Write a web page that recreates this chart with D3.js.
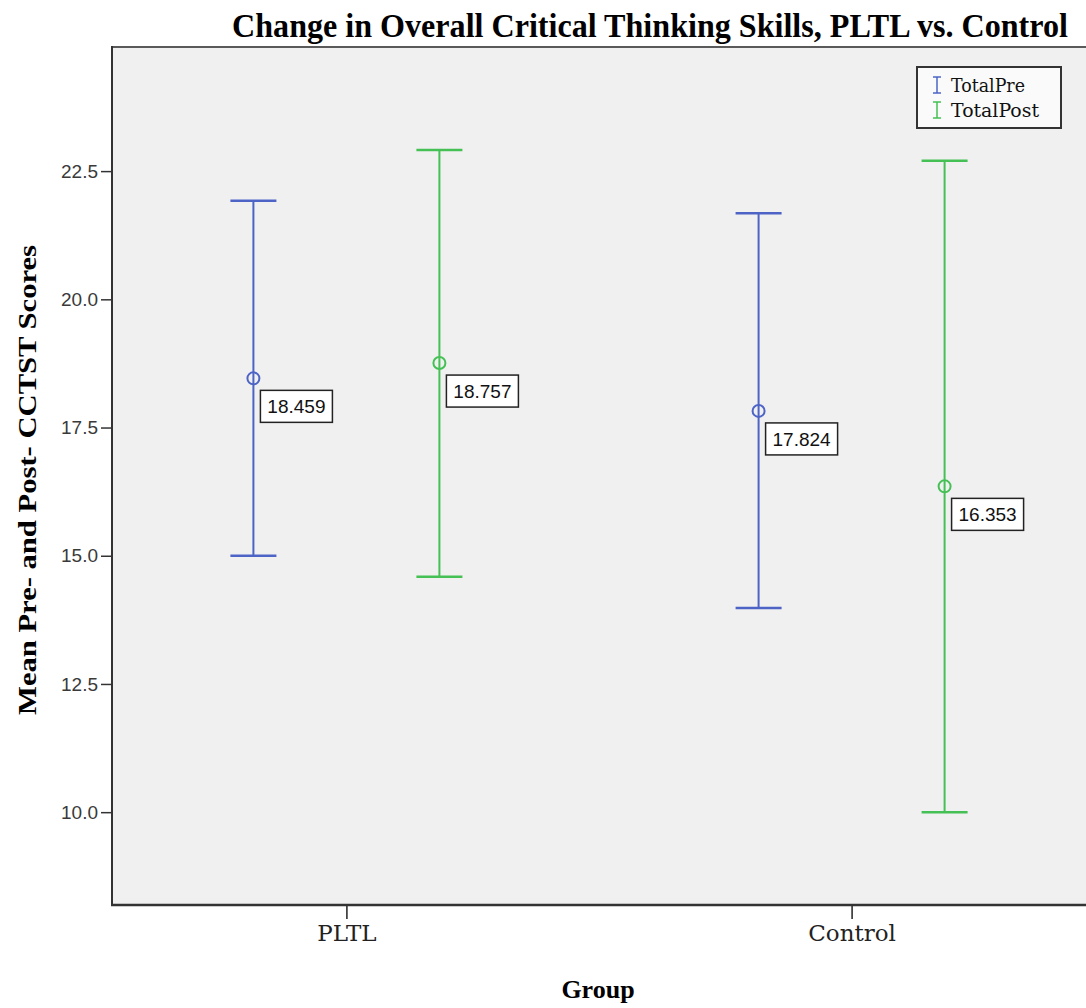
<!DOCTYPE html>
<html>
<head>
<meta charset="utf-8">
<script src="https://cdn.jsdelivr.net/npm/d3@7/dist/d3.min.js"></script>
<style>
  html, body { margin: 0; padding: 0; background: #ffffff; }
  svg { display: block; }
</style>
</head>
<body>
<svg id="chart" width="1086" height="1008"></svg>
<script>
// Groups, series and the summary statistics drawn for each (mean with interval bounds)
const groups = ["PLTL", "Control"];
const seriesNames = ["TotalPre", "TotalPost"];
const seriesColors = ["#4d64c6", "#45c055"];
const means = {
  TotalPre:  [18.459, 17.824],
  TotalPost: [18.757, 16.353]
};
const lowerBounds = {
  TotalPre:  [15.00, 13.98],
  TotalPost: [14.59, 10.00]
};
const upperBounds = {
  TotalPre:  [21.92, 21.68],
  TotalPost: [22.91, 22.70]
};
const yTicks = [10.0, 12.5, 15.0, 17.5, 20.0, 22.5];

const svg = d3.select("#chart");
const plot = { left: 112, right: 1086, top: 47, bottom: 905 };

const x = d3.scalePoint().domain(groups).range([plot.left, plot.right]).padding(0.464);
const offset = d3.scalePoint().domain(seriesNames).range([-93, 93]);
const y = d3.scaleLinear().domain([8.19, 24.92]).range([plot.bottom, plot.top]);
const color = d3.scaleOrdinal().domain(seriesNames).range(seriesColors);

// Plot background
svg.append("rect")
  .attr("x", plot.left).attr("y", plot.top)
  .attr("width", plot.right - plot.left).attr("height", plot.bottom - plot.top)
  .attr("fill", "#f0f0f0");
svg.append("line")
  .attr("x1", plot.left).attr("x2", plot.right)
  .attr("y1", plot.top).attr("y2", plot.top)
  .attr("stroke", "#5a5a5a").attr("stroke-width", 2);

// Y axis
const yAxis = svg.append("g")
  .attr("transform", `translate(${plot.left},0)`)
  .call(d3.axisLeft(y).tickValues(yTicks).tickFormat(d3.format(".1f")).tickSize(11).tickPadding(3));
yAxis.select(".domain").remove();
yAxis.selectAll(".tick line").attr("stroke", "#333").attr("stroke-width", 1.5);
yAxis.selectAll(".tick text")
  .attr("font-family", "Liberation Sans, Arial, sans-serif")
  .attr("font-size", 19).attr("fill", "#3a3a3a");
svg.append("line")
  .attr("x1", plot.left).attr("x2", plot.left)
  .attr("y1", plot.top - 1).attr("y2", plot.bottom + 1)
  .attr("stroke", "#333").attr("stroke-width", 2);

// X axis
const xAxis = svg.append("g")
  .attr("transform", `translate(0,${plot.bottom})`)
  .call(d3.axisBottom(x).tickSize(14).tickPadding(6));
xAxis.select(".domain").remove();
xAxis.selectAll(".tick line").attr("stroke", "#222").attr("stroke-width", 1.5);
xAxis.selectAll(".tick text")
  .attr("font-family", "DejaVu Serif, serif")
  .attr("font-size", 23).attr("fill", "#222");
svg.append("line")
  .attr("x1", plot.left - 1).attr("x2", plot.right)
  .attr("y1", plot.bottom).attr("y2", plot.bottom)
  .attr("stroke", "#333").attr("stroke-width", 2.5);

// Error bars with mean markers and value labels
const rows = [];
seriesNames.forEach(s => groups.forEach((g, i) => rows.push({
  series: s, group: g, mean: means[s][i], lo: lowerBounds[s][i], hi: upperBounds[s][i]
})));

const capHalf = 23;
const bars = svg.append("g").selectAll("g").data(rows).join("g")
  .attr("transform", d => `translate(${x(d.group) + offset(d.series)},0)`);

bars.append("line")
  .attr("y1", d => y(d.hi)).attr("y2", d => y(d.lo))
  .attr("stroke", d => color(d.series)).attr("stroke-width", 2);
bars.append("line")
  .attr("x1", -capHalf).attr("x2", capHalf)
  .attr("y1", d => y(d.hi)).attr("y2", d => y(d.hi))
  .attr("stroke", d => color(d.series)).attr("stroke-width", 2.5);
bars.append("line")
  .attr("x1", -capHalf).attr("x2", capHalf)
  .attr("y1", d => y(d.lo)).attr("y2", d => y(d.lo))
  .attr("stroke", d => color(d.series)).attr("stroke-width", 2.5);
bars.append("circle")
  .attr("cy", d => y(d.mean)).attr("r", 6)
  .attr("fill", "none")
  .attr("stroke", d => color(d.series)).attr("stroke-width", 2);

const labels = bars.append("g")
  .attr("transform", d => `translate(7,${y(d.mean) + 12})`);
labels.append("rect")
  .attr("width", 72).attr("height", 32)
  .attr("fill", "#ffffff").attr("stroke", "#222").attr("stroke-width", 1.5);
labels.append("text")
  .attr("x", 36).attr("y", 23)
  .attr("text-anchor", "middle")
  .attr("font-family", "Liberation Sans, Arial, sans-serif")
  .attr("font-size", 19).attr("fill", "#111")
  .text(d => d3.format(".3f")(d.mean));

// Legend
const legend = svg.append("g").attr("transform", "translate(917,67)");
legend.append("rect")
  .attr("width", 144).attr("height", 61)
  .attr("fill", "#fafafa").attr("stroke", "#333").attr("stroke-width", 2);
const items = legend.selectAll("g.item").data(seriesNames).join("g")
  .attr("class", "item")
  .attr("transform", (d, i) => `translate(0,${18 + i * 25})`);
items.append("line")
  .attr("x1", 20).attr("x2", 20).attr("y1", -8).attr("y2", 8)
  .attr("stroke", d => color(d)).attr("stroke-width", 1.5);
items.append("line")
  .attr("x1", 16).attr("x2", 24).attr("y1", -8).attr("y2", -8)
  .attr("stroke", d => color(d)).attr("stroke-width", 1.5);
items.append("line")
  .attr("x1", 16).attr("x2", 24).attr("y1", 8).attr("y2", 8)
  .attr("stroke", d => color(d)).attr("stroke-width", 1.5);
items.append("text")
  .attr("x", 34).attr("y", 7)
  .attr("font-family", "DejaVu Serif, serif")
  .attr("font-size", 18).attr("fill", "#111")
  .attr("textLength", d => d === "TotalPre" ? 74 : 88)
  .attr("lengthAdjust", "spacingAndGlyphs")
  .text(d => d);

// Title: tall condensed bold serif, squeezed horizontally to 836px
const title = svg.append("text")
  .attr("text-anchor", "middle")
  .attr("font-family", "Liberation Serif, Times New Roman, serif")
  .attr("font-weight", "bold").attr("font-size", 33)
  .text("Change in Overall Critical Thinking Skills, PLTL vs. Control");
const titleWidth = title.node().getComputedTextLength();
title.attr("transform", `translate(650,37) scale(${Math.min(1, 836 / titleWidth)},1)`);

svg.append("text")
  .attr("transform", "translate(36,480) rotate(-90)")
  .attr("text-anchor", "middle")
  .attr("font-family", "Liberation Serif, Times New Roman, serif")
  .attr("font-weight", "bold").attr("font-size", 26)
  .attr("textLength", 470).attr("lengthAdjust", "spacingAndGlyphs")
  .text("Mean Pre- and Post- CCTST Scores");

svg.append("text")
  .attr("x", 598).attr("y", 998)
  .attr("text-anchor", "middle")
  .attr("font-family", "Liberation Serif, Times New Roman, serif")
  .attr("font-weight", "bold").attr("font-size", 26)
  .text("Group");
</script>
</body>
</html>
